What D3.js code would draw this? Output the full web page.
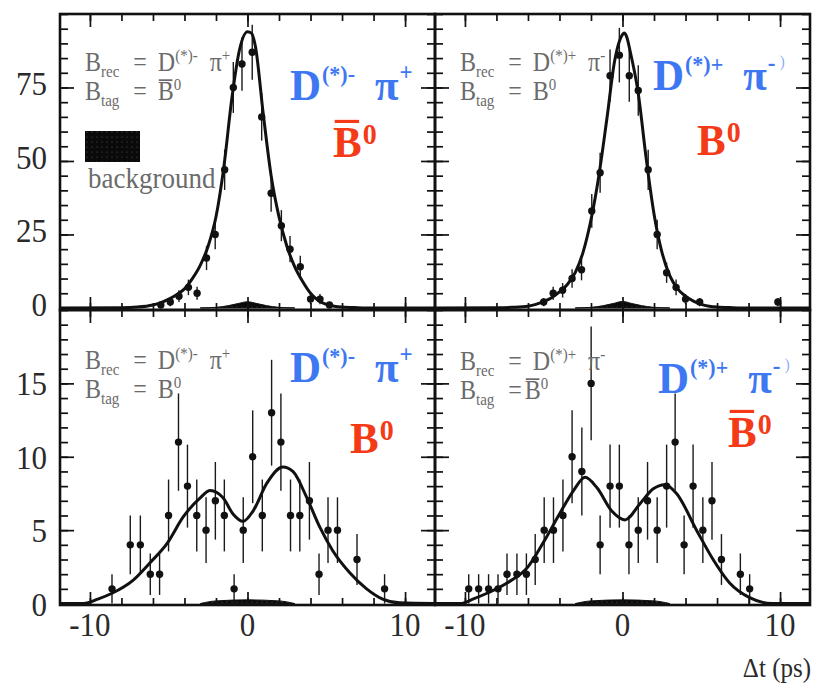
<!DOCTYPE html>
<html><head><meta charset="utf-8">
<script src="https://cdn.jsdelivr.net/npm/d3@7"></script>
<style>body{margin:0;background:#fff}svg{display:block}</style>
</head><body>
<svg id="c" width="814" height="692"></svg>
<script>
// ---------------- DATA ----------------
const xTickMajor = [-10, 0, 10];
const xTickMinor = [-10,-8,-6,-4,-2,0,2,4,6,8,10];
const yTopMajor = [0, 25, 50, 75];
const yTopMinor = [0,5,10,15,20,25,30,35,40,45,50,55,60,65,70,75,80,85,90,95,100];
const yBotMajor = [0, 5, 10, 15];
const yBotMinor = [0,1,2,3,4,5,6,7,8,9,10,11,12,13,14,15,16,17,18,19,20];

// top-left: B_rec = D(*)- pi+, B_tag = anti-B0
const tlFitT = [-11.9,-8,-7,-6,-5.5,-5,-4.5,-4,-3.5,-3,-2.5,-2,-1.5,-1,-0.5,0,0.25,0.5,1,1.5,2,2.5,3,3.5,4,4.5,5,5.5,6,7,8,11.9];
const tlFitY = [0,0.1,0.3,1,1.8,3,4.5,6.5,10,14.5,21,31,48,71,88,94,93.5,89,66,45,31,21,14,9,5,2.5,1.2,0.6,0.3,0.1,0,0];
const tlBkgT = [-3,-2,-1.2,-0.6,0,0.6,1.2,2,3];
const tlBkgY = [0,0.2,0.8,1.5,2.1,1.5,0.8,0.2,0];
const tlDataT = [-5.5,-4.9,-4.35,-3.75,-3.2,-2.6,-2.05,-1.45,-0.9,-0.35,0.3,0.9,1.5,2.15,2.7,3.35,4.0,4.6,5.2];
const tlDataY = [1,2,4,7,5,17,25,47,75,83,87,65,39,28,20,14,3,3,1];

// top-right: B_rec = D(*)+ pi-, B_tag = B0
const trFitT = [-11.9,-8,-7,-6,-5.5,-5,-4.5,-4,-3.5,-3,-2.5,-2,-1.5,-1,-0.5,0,0.1,0.25,0.5,1,1.5,2,2.5,3,3.5,4,4.5,5,5.5,6,7,8,11.9];
const trFitY = [0,0.05,0.2,0.6,1.2,2.2,3.5,5.5,8,12,19,30,45,64,84,93,93.5,92.5,87,73,51,32,19,11,6.5,4,2.3,1.2,0.6,0.3,0.1,0,0];
const trBkgT = [-3,-2,-1.2,-0.6,0,0.6,1.2,2,3];
const trBkgY = [0,0.2,0.8,1.5,2.2,1.5,0.8,0.2,0];
const trDataT = [-5.0,-4.4,-3.8,-3.2,-2.6,-1.95,-1.42,-0.79,-0.2,0.43,1.0,1.63,2.2,2.8,3.4,4.0,4.9,9.86];
const trDataY = [2,5,6,10,13,33,46,79,86,79,74,47,25,12,7,3,2,2];

// bottom-left: B_rec = D(*)- pi+, B_tag = B0
const blFitT = [-11.9,-10.4,-9.5,-8.6,-7.25,-6.17,-5.1,-4.08,-3.0,-2.37,-1.55,-0.92,-0.28,0.35,1.23,2.25,2.88,3.77,4.59,5.41,6.49,7.56,8.58,9.65,11.9];
const blFitY = [0,0,0.3,0.7,1.6,2.8,4.1,5.9,7.2,7.7,7.2,6.1,5.6,6.3,8.2,9.3,9.0,7.2,5.2,3.6,2.1,1.0,0.3,0.05,0];
const blBkgT = [-3,-2,0,2,3];
const blBkgY = [0,0.18,0.25,0.18,0];
const blDataT = [-8.6,-7.44,-6.8,-6.17,-5.58,-5.01,-4.38,-3.81,-3.22,-2.63,-2.04,-1.47,-0.85,-0.27,0.33,0.94,1.53,2.12,2.73,3.32,3.93,4.54,5.11,5.71,6.95,8.7];
const blDataY = [1,4,4,2,2,6,11,8,6,5,7,6,1,5,10,6,13,11,6,6,7,2,5,5,3,1];

// bottom-right: B_rec = D(*)+ pi-, B_tag = anti-B0
const brFitT = [-11.9,-10.3,-9.5,-8.6,-7.33,-6.0,-5.0,-4.0,-3.11,-2.37,-1.63,-0.68,0.16,1.11,1.93,2.69,3.43,4.7,5.75,6.8,8.07,9.5,11.9];
const brFitY = [0,0,0.3,0.7,1.4,2.5,4.2,6.1,7.7,8.6,7.9,6.3,5.7,6.8,7.8,8.1,7.5,5.0,3.0,1.4,0.4,0,0];
const brBkgT = [-3,-2,0,2,3];
const brBkgY = [0,0.18,0.25,0.18,0];
const brDataT = [-9.76,-9.13,-8.5,-7.9,-7.33,-6.7,-6.1,-5.54,-4.97,-4.38,-3.78,-3.2,-2.58,-1.99,-1.42,-0.79,-0.2,0.41,1.0,1.59,2.2,2.8,3.34,3.91,4.48,5.1,5.68,6.28,7.48,8.07];
const brDataY = [1,1,1,1,2,2,2,3,5,5,6,10,9,15,4,8,8,4,5,7,5,8,11,4,8,5,7,3,2,1];

const xLabel = "\u0394t (ps)";

// ---------------- LAYOUT ----------------
const FONT = "'Liberation Serif','Times New Roman',Times,serif";
const BLUE = "#3d78f2", RED = "#f43a16", GREY = "#6b6b6b", INK = "#111";
const SY = 1.12;
const svg = d3.select("#c");

const xL = d3.scaleLinear().domain([-11.9, 11.9]).range([60, 435]);
const xR = d3.scaleLinear().domain([-11.9, 11.9]).range([435, 810]);
const yT = d3.scaleLinear().domain([-0.7, 100]).range([310, 14]);
const yB = d3.scaleLinear().domain([-0.1, 20]).range([605, 310]);

const defs = svg.append("defs");
const pat = defs.append("pattern").attr("id","bkgpat").attr("width",5).attr("height",5).attr("patternUnits","userSpaceOnUse");
pat.append("rect").attr("width",5).attr("height",5).attr("fill","#0a0a0a");
pat.append("circle").attr("cx",2).attr("cy",2).attr("r",0.6).attr("fill","#555");

const panels = [
  {id:"tl", x:xL, y:yT, fitT:tlFitT, fitY:tlFitY, bT:tlBkgT, bY:tlBkgY, dT:tlDataT, dY:tlDataY, yMaj:yTopMajor, yMin:yTopMinor, ylab:true, xlab:false},
  {id:"tr", x:xR, y:yT, fitT:trFitT, fitY:trFitY, bT:trBkgT, bY:trBkgY, dT:trDataT, dY:trDataY, yMaj:yTopMajor, yMin:yTopMinor, ylab:false, xlab:false},
  {id:"bl", x:xL, y:yB, fitT:blFitT, fitY:blFitY, bT:blBkgT, bY:blBkgY, dT:blDataT, dY:blDataY, yMaj:yBotMajor, yMin:yBotMinor, ylab:true, xlab:true},
  {id:"br", x:xR, y:yB, fitT:brFitT, fitY:brFitY, bT:brBkgT, bY:brBkgY, dT:brDataT, dY:brDataY, yMaj:yBotMajor, yMin:yBotMinor, ylab:false, xlab:true}
];

function stretchedText(g, x, y, str, size, anchor, color, weight) {
  return g.append("g").attr("transform", `translate(${x},${y}) scale(1,${SY})`)
    .append("text").attr("font-family", FONT).attr("font-size", size)
    .attr("font-weight", weight || "normal")
    .attr("text-anchor", anchor).attr("fill", color).text(str);
}

// rich text: one <text> per line with positioned tspans (sub/superscripts), optional overbar
function rich(x, y, pieces, color, sy) {
  const grp = svg.append("g").attr("transform", `translate(${x},${y}) scale(1,${sy})`).attr("fill", color);
  const txt = grp.append("text").attr("font-family", FONT);
  let cx = 0;
  pieces.forEach(p => {
    cx += p.pre || 0;
    const yy = p.dy || 0;
    const t = txt.append("tspan").attr("x", cx).attr("y", yy)
      .attr("font-size", p.size)
      .attr("font-weight", p.bold ? "bold" : "normal")
      .attr("fill-opacity", p.op || 1).text(p.s);
    const w = t.node().getComputedTextLength();
    if (p.bar) {
      grp.append("rect").attr("x", cx + p.size*0.04).attr("y", yy - p.size*0.66 - p.bar)
        .attr("width", w - p.size*0.1).attr("height", p.barH || 2.5);
    }
    cx += w;
  });
}

panels.forEach(P => {
  const [x0, x1] = P.x.range();
  const [y0, y1] = [P.y.range()[1], P.y.range()[0]];
  const clip = defs.append("clipPath").attr("id", "clip-" + P.id);
  clip.append("rect").attr("x", x0).attr("y", y0).attr("width", x1 - x0).attr("height", y1 - y0);
  const g = svg.append("g").attr("clip-path", `url(#clip-${P.id})`);

  // background component (filled)
  const bk = P.bT.map((t, i) => ({t, v: P.bY[i]}));
  g.append("path").datum(bk)
    .attr("d", d3.area().x(d => P.x(d.t)).y0(P.y(0)).y1(d => P.y(d.v)).curve(d3.curveMonotoneX))
    .attr("fill", "url(#bkgpat)").attr("stroke", INK).attr("stroke-width", 1);

  // data with error bars
  const pts = P.dT.map((t, i) => ({t, v: P.dY[i]}));
  g.selectAll("line.err").data(pts).enter().append("line")
    .attr("x1", d => P.x(d.t)).attr("x2", d => P.x(d.t))
    .attr("y1", d => P.y(d.v - Math.sqrt(d.v))).attr("y2", d => P.y(d.v + Math.sqrt(d.v)))
    .attr("stroke", "#1a1a1a").attr("stroke-width", 1.4);

  // fit curve
  const fit = P.fitT.map((t, i) => ({t, v: P.fitY[i]}));
  g.append("path").datum(fit)
    .attr("d", d3.line().x(d => P.x(d.t)).y(d => P.y(d.v)).curve(d3.curveMonotoneX))
    .attr("fill", "none").attr("stroke", INK).attr("stroke-width", 3);

  g.selectAll("circle.pt").data(pts).enter().append("circle")
    .attr("cx", d => P.x(d.t)).attr("cy", d => P.y(d.v)).attr("r", 3.7).attr("fill", INK);

  // ticks (all inward)
  const tk = (axis, tx, ty, vals, size) => {
    const a = svg.append("g").attr("transform", `translate(${tx},${ty})`)
      .call(axis.tickValues(vals).tickSize(size).tickFormat(""));
    a.select(".domain").remove();
    a.selectAll(".tick line").attr("stroke", INK).attr("stroke-width", 1.7);
  };
  tk(d3.axisBottom(P.x), 0, y0, xTickMinor, 7);
  tk(d3.axisBottom(P.x), 0, y0, xTickMajor, 13);
  tk(d3.axisTop(P.x), 0, y1, xTickMinor, 7);
  tk(d3.axisTop(P.x), 0, y1, xTickMajor, 13);
  tk(d3.axisRight(P.y), x0, 0, P.yMin, 8);
  tk(d3.axisRight(P.y), x0, 0, P.yMaj, 14);
  tk(d3.axisLeft(P.y), x1, 0, P.yMin, 8);
  tk(d3.axisLeft(P.y), x1, 0, P.yMaj, 14);

  // frame
  svg.append("rect").attr("x", x0).attr("y", y0).attr("width", x1 - x0).attr("height", y1 - y0)
    .attr("fill", "none").attr("stroke", INK).attr("stroke-width", 2.6);

  // labels
  if (P.ylab) {
    const off = P.id === "tl" ? 8 : 12;
    P.yMaj.forEach(v => stretchedText(svg, 47, P.y(v) + off, String(v), 31, "end", "#2a2a2a"));
  }
  if (P.xlab) {
    xTickMajor.forEach(v => stretchedText(svg, P.x(v), 636, String(v), 31, "middle", "#2a2a2a"));
  }
});

stretchedText(svg, 811, 677, xLabel, 25, "end", "#2a2a2a");

// ---------------- ANNOTATIONS ----------------
const GSY = 1.1;
function greyBlock(x, y1, y2, line1sign, piSign, tagBar, tagGap) {
  rich(x, y1, [
    {s:"B", size:24}, {s:"rec", size:15, dy:5},
    {s:"=", size:24, pre:14}, {s:"D", size:24, pre:11},
    {s:"(*)" + line1sign, size:15, dy:-9},
    {s:"\u03c0", size:24, pre:12}, {s:piSign, size:15, dy:-9}
  ], GREY, GSY);
  rich(x, y2, [
    {s:"B", size:24}, {s:"tag", size:15, dy:5},
    {s:"=", size:24, pre:14}, {s:"B", size:24, pre:tagGap, bar: tagBar ? 3 : 0, barH:1.6},
    {s:"0", size:15, dy:-9}
  ], GREY, GSY);
}
greyBlock(85, 71, 100, "-", "+", true, 11);
greyBlock(460, 71, 100, "+", "-", false, 11);
greyBlock(85, 369, 398, "-", "+", false, 11);
greyBlock(460, 370, 399, "+", "-", true, 3);

function blueLabel(x, y, dsign, pisign, tail) {
  const pcs = [
    {s:"D", size:43, bold:true},
    {s:"(*)" + dsign, size:22, bold:true, dy:-17, pre:1},
    {s:"\u03c0", size:43, bold:true, pre:20},
    {s:pisign, size:23, bold:true, dy:-18, pre:1}
  ];
  if (tail) pcs.push({s:")", size:16, dy:-22, pre:4, op:0.6});
  rich(x, y, pcs, BLUE, 1.05);
}
blueLabel(290, 100, "-", "+", false);
blueLabel(653, 90, "+", "-", true);
blueLabel(290, 382, "-", "+", false);
blueLabel(658, 393, "+", "-", true);

function redLabel(x, y, bar) {
  rich(x, y, [
    {s:"B", size:43, bold:true, bar: bar ? 7 : 0, barH:3},
    {s:"0", size:28, bold:true, dy:-12, pre:1}
  ], RED, 1.05);
}
redLabel(333, 157, true);
redLabel(697, 155, false);
redLabel(350, 453, false);
redLabel(728, 447, true);

// legend (top-left panel)
svg.append("rect").attr("x", 85).attr("y", 131).attr("width", 55).attr("height", 31).attr("fill", "url(#bkgpat)");
stretchedText(svg, 88, 188, "background", 27, "start", GREY);
</script>
</body></html>
